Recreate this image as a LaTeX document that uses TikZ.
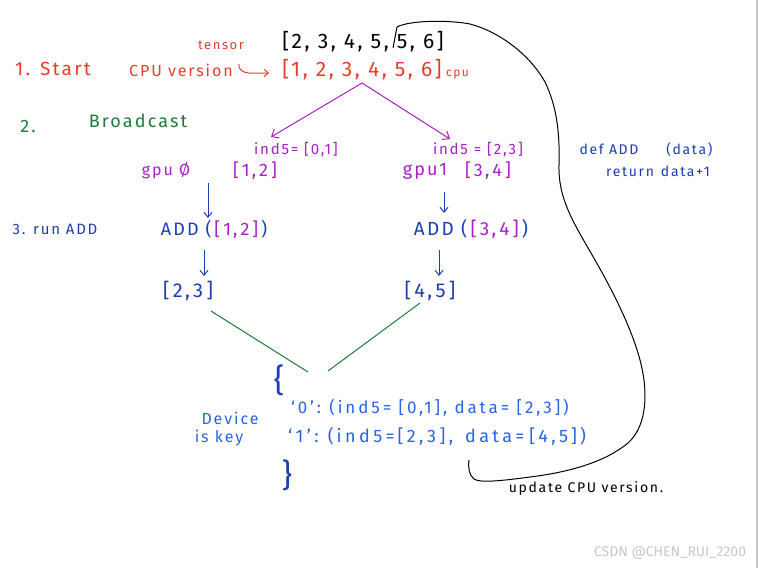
\documentclass[tikz,border=0pt]{standalone}
\usepackage{fontspec}
\setmainfont[LetterSpace=12]{Fira Sans}
\newfontfamily\wmfont{Fira Sans}
\usetikzlibrary{arrows.meta}
\definecolor{hred}{RGB}{232,62,40}
\definecolor{hpurple}{RGB}{168,32,200}
\definecolor{hgreen}{RGB}{30,125,55}
\definecolor{hblue}{RGB}{28,62,178}
\definecolor{hlblue}{RGB}{40,100,230}
\definecolor{hgray}{RGB}{200,200,200}
\newcommand{\fs}[1]{\fontsize{#1}{#1}\selectfont}
\newcommand{\hs}[1]{\hspace{#1pt}}
\tikzset{
  txt/.style={inner sep=0pt, anchor=center, font=\fs{16}},
  big/.style={txt, font=\fs{21}},
  pen/.style={line width=1pt},
  parrow/.style={pen, hpurple, -{Straight Barb[length=6pt,width=10pt]}},
  barrow/.style={pen, hblue, -{Straight Barb[length=5pt,width=8pt]}},
}
\begin{document}
\begin{tikzpicture}[x=1pt,y=-1pt]
\useasboundingbox (0,0) rectangle (759,568);
\fill[white] (0,0) rectangle (759,568);
\draw[hgray, line width=1.5pt] (757,0) -- (757,568);

% step 1
\node[txt, hred, font=\fs{13}] (tensor) at (221,45) {tensor};
\node[big] (gpuarr) at (363,42) {[2, 3, 4, 5, 5, 6]};
\node[txt, hred, font=\fs{19}] (start) at (53,69) {1. Start};
\node[txt, hred] (cpuv) at (181,70) {CPU version};
\node[big, hred] (cpuarr) at (362,70) {[1, 2, 3, 4, 5, 6]};
\node[txt, hred, font=\fs{12}, anchor=west] (cpusub) at (446,75) {cpu};
\draw[pen, hred, -{Straight Barb[length=4pt,width=7pt]}] (cpuv.east) ++(6,-6) to[out=-110, in=180] ++(10,9) -- ++(20,0);

% step 2
\node[txt, hgreen, font=\fs{18}] (two) at (28,126) {2.};
\node[txt, hgreen, font=\fs{18}] (bcast) at (138,121) {Broadcast};
\coordinate (apex) at (362,83);
\node[txt, hpurple, font=\fs{15}] (ind0) at (296,150) {ind5= [0,1]};
\node[txt, hpurple, font=\fs{15}] (ind1) at (478,150) {ind5 = [\hs{2}2,3\hs{2}]};
\draw[parrow] (apex) -- (271,137);
\draw[parrow] (apex) -- (450,139);
\node[txt, hpurple] (gpu0) at (166,171) {gpu Ø};
\node[txt, hpurple, font=\fs{18}] (d0) at (255,171) {[\,1,\,2\,]};
\node[txt, hpurple, font=\fs{18}] (gpu1) at (425,171) {gpu1};
\node[txt, hpurple, font=\fs{18}] (d1) at (488,171) {[\,3,\,4\,]};
\node[txt, hblue, font=\fs{14}] (def) at (646,150) {def ADD\qquad(data)};
\node[txt, hblue, font=\fs{14}] (ret) at (658,171) {return\enspace data+1};

% step 3
\node[txt, hblue, font=\fs{15}] (three) at (55,229) {3. run ADD};
\node[txt, hblue, font=\fs{18}] (add0) at (214,229) {ADD (\,\textcolor{hpurple}{[\,1,\,2\,]}\,)};
\node[txt, hblue, font=\fs{19}] (add1) at (471,229) {ADD (\,\textcolor{hpurple}{[\,3,\,4\,]}\,)};
\draw[barrow] (208,183) -- (208,218);
\draw[barrow] (444,192) -- (444,213);
\node[txt, hblue, font=\fs{20}] (r0) at (188,291) {[\,2,\,3\,]};
\node[txt, hblue, font=\fs{20}] (r1) at (430,291) {[\,4,\,5\,]};
\draw[barrow] (204,250) -- (204,276);
\draw[barrow] (439,250) -- (439,276);

% merge
\coordinate (m0) at (308,372);
\coordinate (m1) at (328,371);
\draw[pen, hgreen] (211,311) -- (m0);
\draw[pen, hgreen] (420,303) -- (m1);

\node[txt, hblue, font=\fs{32}] (lbrace) at (279,380) {\{};
\node[txt, hblue, font=\fs{32}] (rbrace) at (287,475) {\}};
\node[txt, hlblue] (dev) at (230,418) {Device};
\node[txt, hlblue] (key) at (219,438) {is key};
\node[txt, hlblue, font=\fs{17}\addfontfeature{LetterSpace=17}, anchor=west] (e0) at (291,408)
  {`0':\enspace(ind5= [0,1], data= [2,3])};
\node[txt, hlblue, font=\fs{18}\addfontfeature{LetterSpace=19}, anchor=west] (e1) at (288,436)
  {`1':\enspace(\,ind5=\,[2,3],\hs{12}data=\hs{5}[\hs{3}4,5\hs{3}]\hs{3})};

% update curve
\coordinate (cs) at (393,48);
\draw[pen, black] (cs) -- (397,27) .. controls (410,20) and (450,20) .. (470,24)
  .. controls (500,32) and (530,55) .. (545,82)
  .. controls (556,105) and (560,130) .. (559,165)
  .. controls (558,200) and (575,225) .. (595,260)
  .. controls (615,295) and (632,330) .. (640,360)
  .. controls (648,390) and (648,425) .. (628,443)
  .. controls (605,462) and (570,472) .. (530,477)
  .. controls (500,481) and (480,483) .. (474,479)
  .. controls (469,475) and (468,468) .. (469,460);
\node[txt, black, font=\fs{14}] (upd) at (586,489) {update CPU version.};

\node[txt, hgray, font=\wmfont\fs{14}] (wm) at (670,553) {CSDN @CHEN\_RUI\_2200};
\end{tikzpicture}
\end{document}
